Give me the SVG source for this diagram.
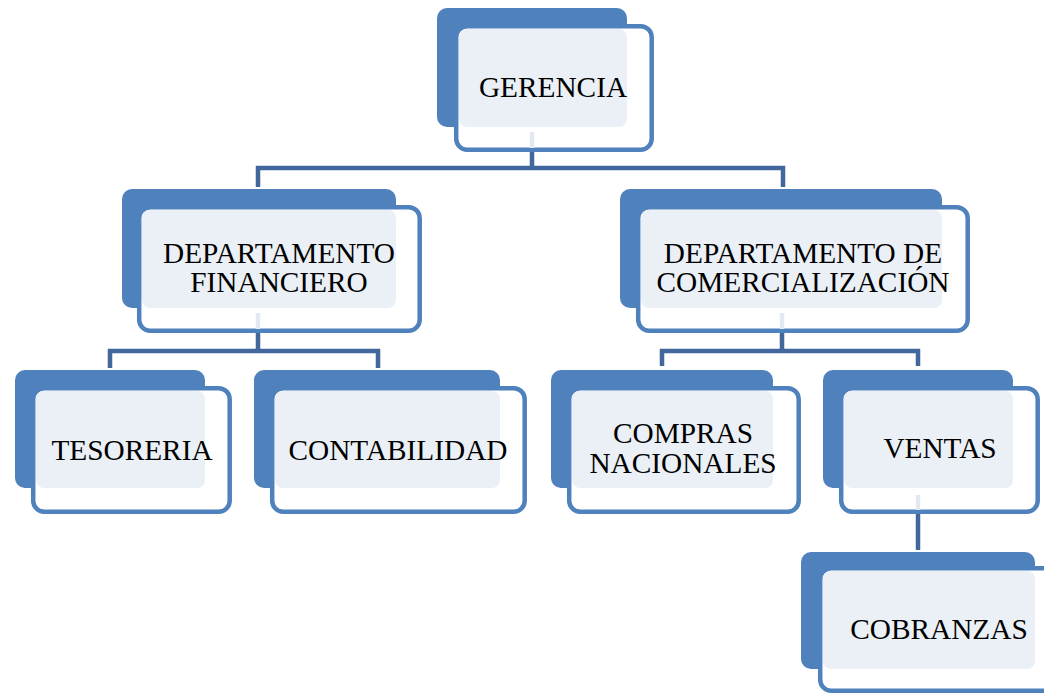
<svg xmlns="http://www.w3.org/2000/svg" width="1044" height="693" viewBox="0 0 1044 693">
<style>
.back{fill:#4F81BD}
.front{fill:#FFFFFF;stroke:#4F81BD;stroke-width:4.5}
.light{fill:#EBF0F7}
.conn{fill:none;stroke:#41679C;stroke-width:4.5}
.stub{fill:none;stroke:#E3E9F3;stroke-width:4.5}
text{font-family:"Liberation Serif","Times New Roman",serif;font-size:29.3px;fill:#000;text-anchor:middle}
</style>
<rect width="1044" height="693" fill="#FFFFFF"/>
<g id="connectors">
<path class="conn" d="M532 150V168M258 187V168H783V187"/>
<path class="conn" d="M258 331V351M110 368V351H378V368"/>
<path class="conn" d="M782 331V351M662 366V351H918V366"/>
<path class="conn" d="M918 512V550"/>
</g>
<g id="gerencia">
<rect class="back" x="437" y="8" width="190" height="119" rx="10"/>
<rect class="front" x="456.2" y="26.2" width="195.5" height="123.5" rx="11"/>
<rect class="light" x="459" y="29" width="168" height="98" rx="8"/>
<path class="stub" d="M532 132V148"/>
<text x="553" y="97">GERENCIA</text>
</g>
<g id="dep-financiero">
<rect class="back" x="122" y="189" width="274" height="119" rx="10"/>
<rect class="front" x="139.2" y="207.2" width="280.5" height="123.5" rx="11"/>
<rect class="light" x="142" y="210" width="254" height="98" rx="8"/>
<path class="stub" d="M258 313V329"/>
<text x="279" y="263">DEPARTAMENTO</text>
<text x="279" y="292">FINANCIERO</text>
</g>
<g id="dep-comercializacion">
<rect class="back" x="620" y="189" width="322" height="119" rx="10"/>
<rect class="front" x="638.2" y="207.2" width="329.5" height="123.5" rx="11"/>
<rect class="light" x="641" y="210" width="301" height="98" rx="8"/>
<path class="stub" d="M782 313V329"/>
<text x="803" y="263">DEPARTAMENTO DE</text>
<text x="803" y="292">COMERCIALIZACIÓN</text>
</g>
<g id="tesoreria">
<rect class="back" x="15" y="370" width="190" height="118" rx="10"/>
<rect class="front" x="33.2" y="388.2" width="196.5" height="123.5" rx="11"/>
<rect class="light" x="36" y="391" width="169" height="97" rx="8"/>
<text x="132" y="460">TESORERIA</text>
</g>
<g id="contabilidad">
<rect class="back" x="254" y="370" width="246" height="118" rx="10"/>
<rect class="front" x="272.2" y="388.2" width="252.5" height="123.5" rx="11"/>
<rect class="light" x="275" y="391" width="225" height="97" rx="8"/>
<text x="398" y="460">CONTABILIDAD</text>
</g>
<g id="compras-nacionales">
<rect class="back" x="551" y="370" width="222" height="118" rx="10"/>
<rect class="front" x="569.2" y="388.2" width="229.5" height="123.5" rx="11"/>
<rect class="light" x="572" y="391" width="201" height="97" rx="8"/>
<text x="683" y="443">COMPRAS</text>
<text x="683" y="473">NACIONALES</text>
</g>
<g id="ventas">
<rect class="back" x="823" y="370" width="190" height="118" rx="10"/>
<rect class="front" x="841.2" y="388.2" width="196.5" height="123.5" rx="11"/>
<rect class="light" x="844" y="391" width="169" height="97" rx="8"/>
<path class="stub" d="M918 495V510"/>
<text x="940" y="458">VENTAS</text>
</g>
<g id="cobranzas">
<rect class="back" x="801" y="552" width="234" height="117" rx="10"/>
<rect class="front" x="820.2" y="568.2" width="241.5" height="122.5" rx="11"/>
<rect class="light" x="823" y="571" width="212" height="98" rx="8"/>
<text x="939" y="639">COBRANZAS</text>
</g>
</svg>
